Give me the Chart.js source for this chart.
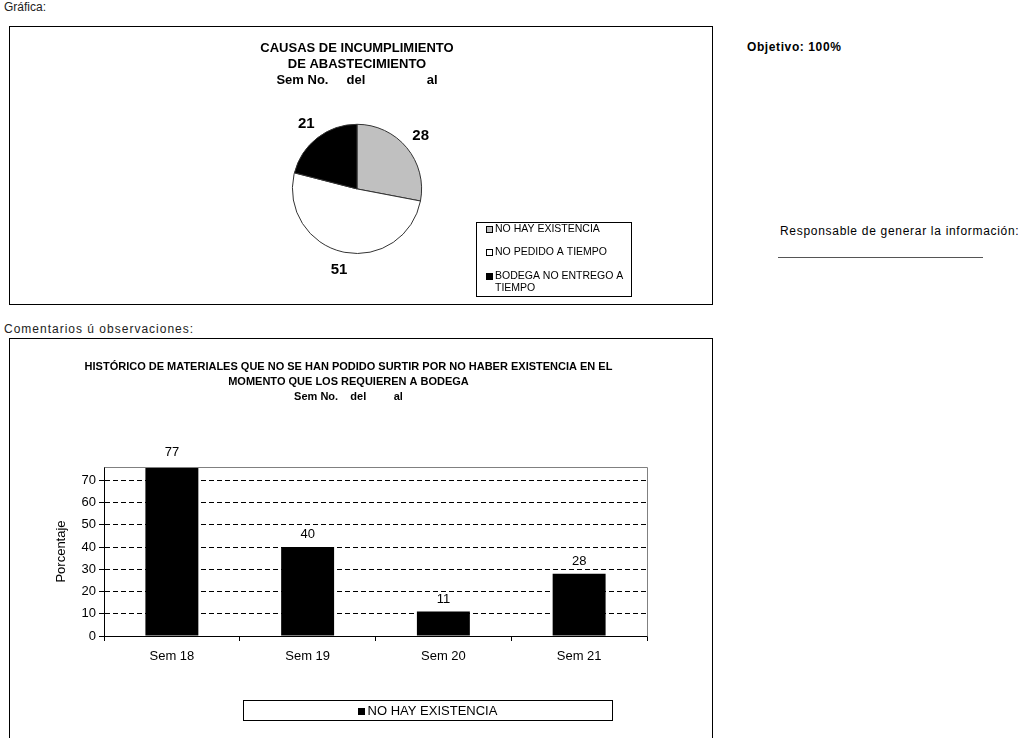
<!DOCTYPE html>
<html lang="es">
<head>
<meta charset="utf-8">
<title>Causas de incumplimiento de abastecimiento</title>
<script src="https://cdn.jsdelivr.net/npm/chart.js@4.4.1/dist/chart.umd.min.js"></script>
<style>
  html, body { margin: 0; padding: 0; background: #fff; overflow: hidden; }
  body { width: 1027px; height: 738px; position: relative; font-family: "Liberation Sans", Arial, sans-serif; color: #000; }
  .lbl { position: absolute; font-size: 12px; line-height: 14px; white-space: nowrap; }
  .frame { position: absolute; border: 1px solid #000; box-sizing: border-box; }
  canvas { position: absolute; }
</style>
</head>
<body>
<div class="lbl" style="left:4px;top:0px;color:#222;">Gráfica:</div>
<div class="frame" style="left:9px;top:26px;width:704px;height:279px;"></div>
<canvas id="pieChart" width="701" height="276" style="left:10px;top:27px;"></canvas>

<div class="lbl" style="left:747px;top:40px;font-weight:bold;letter-spacing:0.6px;">Objetivo: 100%</div>
<div class="lbl" style="left:780px;top:224px;letter-spacing:0.7px;">Responsable de generar la información:</div>
<div style="position:absolute;left:778px;top:257px;width:205px;height:1px;background:#555;"></div>

<div class="lbl" style="left:4px;top:322px;color:#222;letter-spacing:1px;">Comentarios ú observaciones:</div>
<div class="frame" style="left:9px;top:338px;width:704px;height:420px;"></div>
<canvas id="barChart" width="701" height="400" style="left:10px;top:339px;"></canvas>

<script>
// --- datos ---
const pieTitle = ['CAUSAS DE INCUMPLIMIENTO', 'DE ABASTECIMIENTO', 'Sem No.     del                 al'];
const pieCategories = ['NO HAY EXISTENCIA', 'NO PEDIDO A TIEMPO', 'BODEGA NO ENTREGO A TIEMPO'];
const pieValues = [28, 51, 21];
const pieColors = ['#c0c0c0', '#ffffff', '#000000'];

const barTitle = [
    'HISTÓRICO DE MATERIALES QUE NO SE HAN PODIDO SURTIR POR NO HABER EXISTENCIA EN EL',
    'MOMENTO QUE LOS REQUIEREN A BODEGA',
    'Sem No.    del         al'
];
const barCategories = ['Sem 18', 'Sem 19', 'Sem 20', 'Sem 21'];
const barSeriesName = 'NO HAY EXISTENCIA';
const barValues = [77, 40, 11, 28];
const barAxisTitle = 'Porcentaje';

const FONT = '"Liberation Sans", Arial, sans-serif';
Chart.defaults.font.family = FONT;
Chart.defaults.color = '#000';

function wrapText(ctx, text, maxWidth) {
    const words = text.split(' ');
    const lines = [];
    let line = '';
    words.forEach(w => {
        const test = line ? line + ' ' + w : w;
        if (line && ctx.measureText(test).width > maxWidth) {
            lines.push(line);
            line = w;
        } else {
            line = test;
        }
    });
    if (line) lines.push(line);
    return lines;
}

// etiquetas de valor en las rebanadas
const sliceLabels = {
    id: 'sliceLabels',
    afterDatasetsDraw(chart, args, opts) {
        const ctx = chart.ctx;
        const values = chart.data.datasets[0].data;
        ctx.save();
        ctx.font = opts.font;
        ctx.fillStyle = '#000';
        ctx.textAlign = 'center';
        ctx.textBaseline = 'middle';
        chart.getDatasetMeta(0).data.forEach((arc, i) => {
            const mid = (arc.startAngle + arc.endAngle) / 2;
            const r = arc.outerRadius + opts.offset;
            ctx.fillText(String(values[i]), arc.x + Math.cos(mid) * r, arc.y + Math.sin(mid) * r);
        });
        ctx.restore();
    }
};

// etiquetas encima de las barras
const barLabels = {
    id: 'barLabels',
    afterDatasetsDraw(chart, args, opts) {
        const ctx = chart.ctx;
        const values = chart.data.datasets[0].data;
        const yScale = chart.scales.y;
        ctx.save();
        ctx.font = opts.font;
        ctx.fillStyle = '#000';
        ctx.textAlign = 'center';
        ctx.textBaseline = 'bottom';
        chart.getDatasetMeta(0).data.forEach((bar, i) => {
            ctx.fillText(String(values[i]), bar.x, yScale.getPixelForValue(values[i]) - opts.offset);
        });
        ctx.restore();
    }
};

// marco gris arriba y a la derecha del área de trazado
const plotFrame = {
    id: 'plotFrame',
    afterDraw(chart, args, opts) {
        const {left, right, top, bottom} = chart.chartArea;
        const ctx = chart.ctx;
        ctx.save();
        ctx.strokeStyle = opts.color;
        ctx.lineWidth = 1;
        ctx.beginPath();
        ctx.moveTo(Math.round(left) + 0.5, Math.round(top) + 0.5);
        ctx.lineTo(Math.round(right) + 0.5, Math.round(top) + 0.5);
        ctx.lineTo(Math.round(right) + 0.5, Math.round(bottom) + 0.5);
        ctx.stroke();
        ctx.restore();
    }
};

// leyenda con recuadro
const boxLegend = {
    id: 'boxLegend',
    afterDraw(chart, args, o) {
        const ctx = chart.ctx;
        let items;
        if (o.mode === 'labels') {
            const ds = chart.data.datasets[0];
            items = chart.data.labels.map((t, i) => ({ text: t, color: ds.backgroundColor[i] }));
        } else {
            items = chart.data.datasets.map(ds => ({ text: ds.label, color: ds.backgroundColor }));
        }
        ctx.save();
        ctx.strokeStyle = '#000';
        ctx.lineWidth = 1;
        ctx.strokeRect(o.left + 0.5, o.top + 0.5, o.width, o.height);
        ctx.font = o.font;
        ctx.textBaseline = 'middle';
        ctx.textAlign = 'left';
        const sq = o.square;
        if (o.align === 'center') {
            const it = items[0];
            const tw = ctx.measureText(it.text).width;
            const total = sq + o.gap + tw;
            const x0 = o.left + (o.width - total) / 2;
            const y = o.top + o.height / 2 + 1;
            drawSquare(ctx, Math.round(x0), Math.round(y - sq / 2), sq, it.color);
            ctx.fillStyle = '#000';
            ctx.fillText(it.text, x0 + sq + o.gap, y);
        } else {
            let y = o.top + o.firstY;
            items.forEach(it => {
                const lines = wrapText(ctx, it.text, o.width - o.textX - 3);
                drawSquare(ctx, o.left + o.squareX, Math.round(y - sq / 2), sq, it.color);
                ctx.fillStyle = '#000';
                lines.forEach((ln, k) => ctx.fillText(ln, o.left + o.textX, y + k * o.lineGap));
                y += o.itemGap + (lines.length - 1) * o.lineGap;
            });
        }
        ctx.restore();
    }
};

function drawSquare(ctx, x, y, s, color) {
    ctx.fillStyle = color;
    ctx.fillRect(x, y, s, s);
    ctx.strokeStyle = '#000';
    ctx.strokeRect(x + 0.5, y + 0.5, s - 1, s - 1);
}

new Chart(document.getElementById('pieChart'), {
    type: 'pie',
    data: {
        labels: pieCategories,
        datasets: [{
            data: pieValues,
            backgroundColor: pieColors,
            borderColor: '#333',
            borderWidth: 1,
            hoverOffset: 0
        }]
    },
    options: {
        responsive: false,
        animation: false,
        events: [],
        layout: { padding: { left: 247, right: 254, top: 0, bottom: 49 } },
        plugins: {
            legend: { display: false },
            tooltip: { enabled: false },
            title: {
                display: true,
                text: pieTitle,
                color: '#000',
                font: { size: 13, weight: 'bold', lineHeight: 1.2 },
                padding: { top: 14, bottom: 36 }
            },
            sliceLabels: { font: 'bold 15px ' + FONT, offset: 18 },
            boxLegend: {
                mode: 'labels', left: 466, top: 195, width: 155, height: 74,
                font: '10.5px ' + FONT, square: 7, squareX: 10, textX: 19,
                firstY: 7, itemGap: 23.5, lineGap: 12
            }
        }
    },
    plugins: [sliceLabels, boxLegend]
});

new Chart(document.getElementById('barChart'), {
    type: 'bar',
    data: {
        labels: barCategories,
        datasets: [{
            label: barSeriesName,
            data: barValues,
            backgroundColor: '#000',
            barPercentage: 0.39,
            categoryPercentage: 1
        }]
    },
    options: {
        responsive: false,
        animation: false,
        events: [],
        layout: { padding: { left: 40, right: 64, top: 0, bottom: 73 } },
        scales: {
            x: {
                grid: { offset: true, drawOnChartArea: false, drawTicks: true, tickLength: 5, color: '#000' },
                border: { color: '#000' },
                ticks: { font: { size: 13 }, padding: 8, color: '#000' },
                afterFit: s => { s.height = 30; }
            },
            y: {
                min: 0,
                max: 76,
                ticks: { stepSize: 10, includeBounds: false, font: { size: 13 }, padding: 3, color: '#000' },
                grid: { color: '#000', tickLength: 5 },
                border: { color: '#000', dash: [5, 3] },
                title: { display: true, text: barAxisTitle, font: { size: 13 }, color: '#000' },
                afterFit: s => { s.width = 54; }
            }
        },
        plugins: {
            legend: { display: false },
            tooltip: { enabled: false },
            title: {
                display: true,
                text: barTitle,
                color: '#000',
                font: { size: 11, weight: 'bold', lineHeight: 1.364 },
                padding: { top: 20, bottom: 63 }
            },
            barLabels: { font: '13px ' + FONT, offset: 6 },
            plotFrame: { color: '#808080' },
            boxLegend: {
                mode: 'datasets', align: 'center', left: 233, top: 361, width: 369, height: 20,
                font: '13px ' + FONT, square: 7, gap: 3
            }
        }
    },
    plugins: [barLabels, plotFrame, boxLegend]
});
</script>
</body>
</html>
